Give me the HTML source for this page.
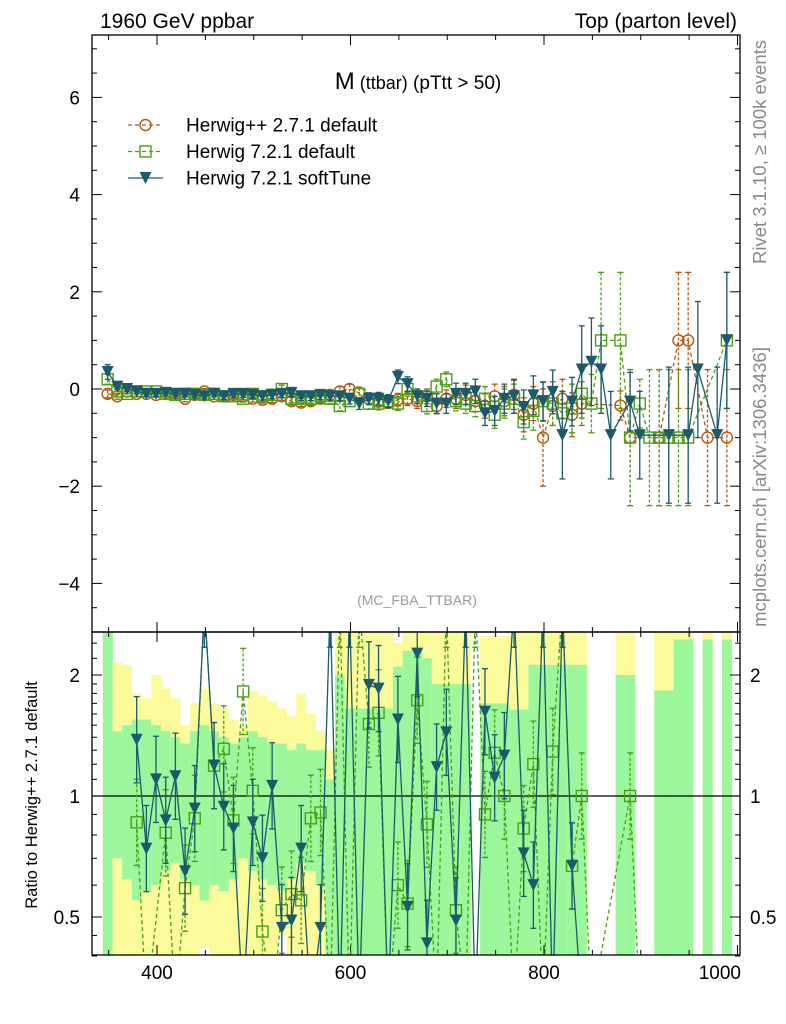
<!DOCTYPE html>
<html><head><meta charset="utf-8"><title>M(ttbar) pTtt&gt;50</title>
<style>
html,body{margin:0;padding:0;background:#fff;}
svg{display:block;font-family:"Liberation Sans",Arial,sans-serif;}
</style></head>
<body>
<svg id="chart" width="786" height="1024" viewBox="0 0 786 1024" xmlns="http://www.w3.org/2000/svg">
<defs>
<clipPath id="cm"><rect x="92" y="35" width="648" height="597"/></clipPath>
<clipPath id="cr"><rect x="92" y="632" width="648" height="323"/></clipPath>
</defs>
<g id="bands" clip-path="url(#cr)"></g>
<g id="grid"></g>
<g id="mainData" clip-path="url(#cm)"></g>
<g id="ratioData" clip-path="url(#cr)"></g>
<rect x="92" y="35" width="648" height="597" fill="none" stroke="#000" stroke-width="1.3"/>
<rect x="92" y="632" width="648" height="323" fill="none" stroke="#000" stroke-width="1.3"/>
<text x="100" y="28" font-size="21">1960 GeV ppbar</text>
<text x="737" y="28" font-size="21" text-anchor="end">Top (parton level)</text>
<text x="418" y="89" text-anchor="middle"><tspan font-size="24">M</tspan><tspan font-size="18"> (ttbar)</tspan><tspan font-size="19"> (pTtt &gt; 50)</tspan></text>
<text x="417" y="605" font-size="14" fill="#999" text-anchor="middle">(MC_FBA_TTBAR)</text>
<text transform="translate(766,152) rotate(-90)" font-size="18.5" fill="#888" text-anchor="middle">Rivet 3.1.10, ≥ 100k events</text>
<text transform="translate(766,487) rotate(-90)" font-size="18.5" fill="#888" text-anchor="middle">mcplots.cern.ch [arXiv:1306.3436]</text>
<text transform="translate(37,795) rotate(-90)" font-size="16.5" text-anchor="middle">Ratio to Herwig++ 2.7.1 default</text>
<g id="legend"></g>
</svg>
<script>
// ---- data (bin centres: 349 + 10*i GeV) ----
const binLow = [344,354,364,374,384,394,404,414,424,434,444,454,464,474,484,494,504,514,524,534,544,554,564,574,584,594,604,614,624,634,644,654,664,674,684,694,704,714,724,734,744,754,764,774,784,794,804,814,824,834,844,854,864,874,884,894,904,914,924,934,944,954,964,974,984,994];
const herwigPP = [-0.1,-0.15,-0.05,-0.1,-0.1,-0.12,-0.08,-0.1,-0.2,-0.12,-0.05,-0.15,-0.15,-0.12,-0.15,-0.2,-0.22,-0.2,-0.15,-0.25,-0.28,-0.25,-0.2,-0.12,-0.05,0,-0.08,-0.2,-0.25,-0.28,-0.22,-0.2,-0.25,-0.15,-0.35,-0.2,-0.2,-0.12,-0.25,-0.35,-0.15,
 -0.25,-0.12,-0.53,-0.3,-1,-0.35,-0.2,-0.53,-0.3,null,null,null,-0.34,-1,null,null,-1,null,1,1,null,-1,null,-1,null];
const herwigPPErr = [0.08,0.06,0.05,0.05,0.05,0.05,0.05,0.05,0.06,0.06,0.06,0.06,0.06,0.07,0.07,0.07,0.07,0.08,0.08,0.08,0.08,0.09,0.09,0.1,0.1,0.1,0.12,0.12,0.12,0.12,0.13,0.14,0.15,0.15,0.16,0.18,0.2,0.2,0.22,0.25,0.25,0.3,0.3,0.35,0.35,1.0,0.4,0.4,0.45,0.45,null,null,null,0.3,1.4,null,null,1.4,null,1.4,1.4,null,1.4,null,1.4,null];
const herwig7 = [0.2,-0.05,-0.1,-0.05,-0.05,-0.05,-0.1,-0.12,-0.1,-0.1,-0.12,-0.1,-0.15,-0.15,-0.2,-0.1,-0.15,-0.12,0,-0.2,-0.2,-0.2,-0.15,-0.2,-0.35,-0.25,-0.1,-0.3,-0.3,-0.25,-0.3,0,-0.15,-0.35,0.05,0.2,-0.25,-0.3,-0.35,-0.2,-0.53,
 -0.3,-0.2,-0.68,-0.45,-0.25,-0.3,-0.5,-0.4,-0.1,-0.3,1,null,1,-1,-0.3,-1,-1,-1,-1,-1,null,null,null,1,null];
const herwig7Err = [0.1,0.06,0.05,0.05,0.05,0.05,0.05,0.06,0.06,0.06,0.06,0.06,0.07,0.07,0.07,0.07,0.08,0.08,0.08,0.08,0.09,0.09,0.1,0.1,0.1,0.11,0.12,0.12,0.13,0.13,0.14,0.15,0.15,0.16,0.15,0.15,0.2,0.2,0.22,0.25,0.28,0.3,0.3,0.35,0.4,0.4,0.45,0.45,0.5,0.5,0.6,1.4,null,1.4,1.4,0.5,1.4,1.4,1.4,1.4,1.4,null,null,null,1.4,null];
const softTune = [0.35,0.05,0,-0.05,-0.1,-0.1,-0.08,-0.1,-0.1,-0.12,-0.15,-0.1,-0.15,-0.1,-0.1,-0.12,-0.15,-0.12,-0.1,-0.08,-0.15,-0.15,-0.12,-0.15,-0.15,-0.2,-0.3,-0.2,-0.2,-0.25,0.25,0.1,-0.15,-0.2,
 -0.3,-0.3,-0.1,-0.1,-0.05,-0.5,-0.45,-0.2,-0.15,-0.37,-0.13,-0.26,-0.06,-0.95,-0.26,0.4,0.56,0.4,-0.95,null,-0.26,-0.95,null,null,-0.95,null,-0.95,0.4,null,-0.95,1,null];
const softTuneErr = [0.15,0.06,0.05,0.05,0.05,0.05,0.05,0.05,0.06,0.06,0.06,0.06,0.07,0.07,0.07,0.07,0.08,0.08,0.08,0.08,0.09,0.09,0.1,0.1,0.1,0.11,0.12,0.12,0.13,0.13,0.14,0.15,0.15,0.16,0.2,0.2,0.22,0.22,0.25,0.25,0.3,0.3,0.35,0.35,0.4,0.4,0.45,0.9,0.5,0.9,0.9,0.9,0.9,null,0.6,0.9,null,null,1.4,null,1.4,1.4,null,1.4,1.4,null];
const ratioH7 = [null,null,null,0.86,0.3,null,0.81,0.3,0.59,0.88,3,1.19,1.31,0.87,1.82,1.03,0.46,0.3,0.52,0.57,0.55,0.88,0.91,0.3,3,0.3,3,1.51,1.61,0.3,0.60,0.54,1.73,0.85,0.3,3,0.52,0.3,3,0.90,1.28,1.0,0.3,0.83,1.2,0.3,1.29,3,0.67,1.0,0.3,null,null,null,1.0,0.3,null,null,null,null,null,null,null,null,null,null];
const ratioSoft = [null,null,null,1.38,0.74,1.10,0.87,1.12,0.65,0.93,3,1.19,0.94,0.83,0.3,0.86,0.70,1.06,0.47,0.49,0.74,0.3,0.47,3,0.3,3,0.3,1.89,1.85,0.3,1.55,0.53,2.26,0.43,1.18,1.44,0.49,3,0.3,1.62,1.11,1.26,3,0.72,0.60,3,0.3,3,0.67,0.3,null,null,null,null,null,null,null,null,null,null,null,null,null,null,null,null];
const bandGreenHi = [3,1.45,1.5,1.55,1.55,1.5,1.45,1.4,1.35,1.45,1.5,1.45,1.4,1.35,1.4,1.45,1.4,1.35,1.35,1.3,1.35,1.3,1.3,1.1,2.0,1.65,1.65,1.65,1.65,1.65,2.1,2.3,2.3,2.2,1.9,1.9,1.9,1.9,null,1.7,1.7,1.7,1.64,1.64,2.12,2.12,2.12,2.12,2.12,2.12,null,null,null,2.0,2.0,null,null,1.83,1.83,2.45,2.45,null,2.45,null,2.45,null];
const bandGreenLo = [0.3,0.7,0.62,0.55,0.58,0.6,0.65,0.68,0.62,0.6,0.55,0.6,0.58,0.62,0.7,0.65,0.62,0.6,0.58,0.62,0.68,0.65,0.6,0.3,0.3,0.3,0.3,0.3,0.3,0.3,0.3,0.3,0.3,0.3,0.3,0.3,0.3,0.3,null,0.3,0.3,0.3,0.3,0.3,0.3,0.3,0.3,0.3,0.3,0.3,null,null,null,0.3,0.3,null,null,0.3,0.3,0.3,0.3,null,0.3,null,0.3,null];
const bandYellowHi = [3,2.15,2.12,1.8,1.75,2.0,1.85,1.75,1.5,1.7,1.85,1.7,1.65,1.55,1.5,1.82,1.78,1.72,1.65,1.58,1.8,1.6,1.45,1.3,3,3,3,3,3,3,2.4,3,3,3,3,3,3,3,null,2.5,2.5,2.5,3,3,3,3,3,3,3,3,null,null,null,3,3,null,null,3,3,3,3,null,3,null,3,null];
const bandYellowLo = [0.3,0.3,0.3,0.3,0.3,0.3,0.3,0.3,0.3,0.3,0.42,0.3,0.3,0.3,0.3,0.3,0.3,0.3,0.45,0.3,0.3,0.3,0.3,0.3,0.3,0.3,0.3,0.3,0.3,0.3,0.3,0.3,0.3,0.3,0.3,0.3,0.3,0.3,null,0.3,0.3,0.3,0.3,0.3,0.3,0.3,0.3,0.3,0.3,0.3,null,null,null,0.3,0.3,null,null,0.3,0.3,0.3,0.3,null,0.3,null,0.3,null];
const mainYTicks = [-4,-2,0,2,4,6];
const mainYTickLabels = ["\u22124","\u22122","0","2","4","6"];
const xTicks = [400,600,800,1000];
const xTickLabels = ["400","600","800","1000"];
const ratioTicks = [0.5,1,2];
const ratioTickLabels = ["0.5","1","2"];
const ratioMinor = [0.4,0.45,0.6,0.7,0.8,0.9,1.1,1.2,1.3,1.4,1.5,1.6,1.7,1.8,1.9,2.2,2.4];
const legendLabels = ["Herwig++ 2.7.1 default","Herwig 7.2.1 default","Herwig 7.2.1 softTune"];

// ---- axis functions ----
const BIN_W = 10, RATIO_REL_ERR = 0.28;
const xS = v => 157 + (v - 400) * 0.9675;
const yM = v => 389 - v * 48.6;
const yR = r => 796 - Math.log10(r) * 402;
const NS = "http://www.w3.org/2000/svg";
function mk(tag, attrs, parent) {
  const e = document.createElementNS(NS, tag);
  for (const k in attrs) e.setAttribute(k, attrs[k]);
  parent.appendChild(e);
  return e;
}
const C_OR = "#b5560c", C_GR = "#4a9e12", C_TE = "#1b5a6b";

// ---- bands ----
const gb = document.getElementById("bands");
for (let i = 0; i < binLow.length; i++) {
  const x0 = xS(binLow[i]), x1 = xS(binLow[i] + BIN_W);
  if (bandYellowHi[i] != null) {
    const r = mk("rect", {x: x0, y: yR(bandYellowHi[i]), width: x1 - x0 + 0.3, height: yR(bandYellowLo[i]) - yR(bandYellowHi[i]), fill: "#fbfb9b"}, gb);
    
    
  }
  if (bandGreenHi[i] != null) {
    const r = mk("rect", {x: x0, y: yR(bandGreenHi[i]), width: x1 - x0 + 0.3, height: yR(bandGreenLo[i]) - yR(bandGreenHi[i]), fill: "#9cf79c"}, gb);
    
    
  }
}

// ---- axes / ticks ----
const gg = document.getElementById("grid");
function tick(x1, y1, x2, y2) { mk("line", {x1, y1, x2, y2, stroke: "#000", "stroke-width": 1}, gg); }
for (let v = 350; v <= 1000; v += 50) {
  const x = xS(v), L = (v % 200 === 0) ? 10 : 5;
  tick(x, 632, x, 632 - L); tick(x, 35, x, 35 + L);
  tick(x, 955, x, 955 - L); tick(x, 632, x, 632 + L);
}
for (let v = -5; v <= 7; v += 0.5) {
  const y = yM(v), L = (Math.abs(v % 2) < 1e-9) ? 10 : 5;
  tick(92, y, 92 + L, y); tick(740, y, 740 - L, y);
}
ratioTicks.forEach((r, i) => {
  const y = yR(r);
  tick(92, y, 102, y); tick(740, y, 730, y);
  const t1 = mk("text", {x: 80, y: y + 7, "font-size": 19, "text-anchor": "end"}, gg);
  t1.textContent = ratioTickLabels[i];
  
  
  const t2 = mk("text", {x: 750, y: y + 7, "font-size": 19}, gg);
  t2.textContent = ratioTickLabels[i];
  
  
});
ratioMinor.forEach(r => { const y = yR(r); tick(92, y, 97, y); tick(740, y, 735, y); });
mk("line", {x1: 92, y1: yR(1), x2: 740, y2: yR(1), stroke: "#000", "stroke-width": 1.2}, gg);
mainYTicks.forEach((v, i) => {
  const t = mk("text", {x: 80, y: yM(v) + 7, "font-size": 19, "text-anchor": "end"}, gg);
  t.textContent = mainYTickLabels[i];
  
  
});
xTicks.forEach((v, i) => {
  const last = i === xTicks.length - 1;
  const t = mk("text", {x: last ? 741 : xS(v), y: 979, "font-size": 19, "text-anchor": last ? "end" : "middle"}, gg);
  t.textContent = xTickLabels[i];
  
  
});

// ---- markers ----
function marker(kind, x, y, col, parent) {
  let e;
  if (kind === "circle") e = mk("circle", {cx: x, cy: y, r: 5.5, fill: "none", stroke: col, "stroke-width": 1.4}, parent);
  else if (kind === "square") e = mk("rect", {x: x - 5.5, y: y - 5.5, width: 11, height: 11, fill: "none", stroke: col, "stroke-width": 1.4}, parent);
  else e = mk("path", {d: `M${x-6},${y-6}L${x+6},${y-6}L${x},${y+6}Z`, fill: col}, parent);
  return e;
}
function series(vals, errs, yf, kind, col, dash, parent, name, ratio) {
  const g = mk("g", {}, parent);
  
  
  const pts = [];
  vals.forEach((v, i) => {
    if (v == null) return;
    const x = xS(binLow[i] + BIN_W / 2), y = yf(v);
    pts.push(x + "," + y);
    let yt, yb;
    if (ratio) { yt = yf(v * (1 + RATIO_REL_ERR)); yb = yf(v / (1 + RATIO_REL_ERR)); }
    else { const e = errs[i] || 0; yt = yf(v + e); yb = yf(v - e); }
    const sa = dash ? {"stroke-dasharray": "3,2"} : {};
    mk("line", Object.assign({x1: x, y1: yt, x2: x, y2: yb, stroke: col, "stroke-width": 1.3}, sa), g);
    mk("line", {x1: x - 3, y1: yt, x2: x + 3, y2: yt, stroke: col, "stroke-width": 1.3}, g);
    mk("line", {x1: x - 3, y1: yb, x2: x + 3, y2: yb, stroke: col, "stroke-width": 1.3}, g);
  });
  const pl = mk("polyline", {points: pts.join(" "), fill: "none", stroke: col, "stroke-width": 1.3}, g);
  if (dash) pl.setAttribute("stroke-dasharray", "4,3");
  vals.forEach((v, i) => {
    if (v == null) return;
    const m = marker(kind, xS(binLow[i] + BIN_W / 2), yf(v), col, g);
    
    
  });
}
const gm = document.getElementById("mainData");
series(herwigPP, herwigPPErr, yM, "circle", C_OR, true, gm, "herwigpp-271-series", false);
series(herwig7, herwig7Err, yM, "square", C_GR, true, gm, "herwig-721-default-series", false);
series(softTune, softTuneErr, yM, "tri", C_TE, false, gm, "herwig-721-softtune-series", false);
const grd = document.getElementById("ratioData");
series(ratioH7, null, yR, "square", C_GR, true, grd, "ratio-herwig-721-default", true);
series(ratioSoft, null, yR, "tri", C_TE, false, grd, "ratio-herwig-721-softtune", true);

// ---- legend ----
const gl = document.getElementById("legend");
const legKinds = ["circle", "square", "tri"], legCols = [C_OR, C_GR, C_TE], legDash = [true, true, false];
legendLabels.forEach((lab, i) => {
  const y = 125 + i * 26.5;
  const g = mk("g", {}, gl);
  
  
  const l = mk("line", {x1: 128, y1: y, x2: 163, y2: y, stroke: legCols[i], "stroke-width": 1.3}, g);
  if (legDash[i]) l.setAttribute("stroke-dasharray", "4,3");
  marker(legKinds[i], 145.5, y, legCols[i], g);
  const t = mk("text", {x: 186, y: y + 6.5, "font-size": 19}, g);
  t.textContent = lab;
});
</script>
</body></html>
